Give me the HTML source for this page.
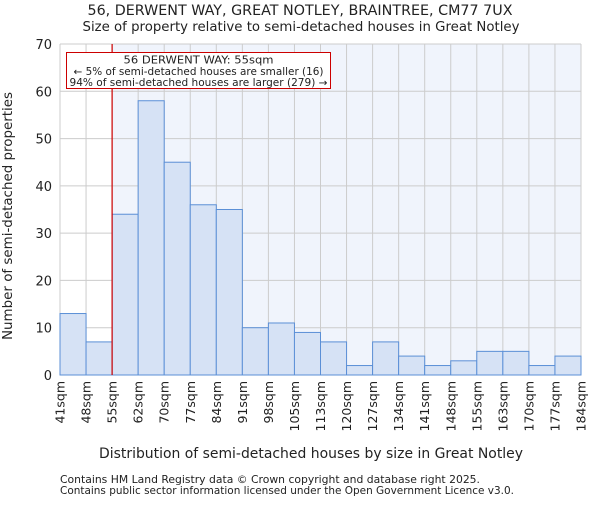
<!DOCTYPE html>
<html><head><meta charset="utf-8"><style>
body{margin:0;background:#fff}
svg text{font-family:"DejaVu Sans","Liberation Sans",sans-serif;fill:#222}
</style></head><body>
<svg id="chart" width="600" height="500" xmlns="http://www.w3.org/2000/svg">
<text x="300" y="15" text-anchor="middle" font-size="14" textLength="425" lengthAdjust="spacingAndGlyphs">56, DERWENT WAY, GREAT NOTLEY, BRAINTREE, CM77 7UX</text>
<text x="301" y="31" text-anchor="middle" font-size="13.3" textLength="437" lengthAdjust="spacingAndGlyphs">Size of property relative to semi-detached houses in Great Notley</text>
<g id="plot"></g>
<text x="311" y="458" text-anchor="middle" font-size="13.8" textLength="424" lengthAdjust="spacingAndGlyphs">Distribution of semi-detached houses by size in Great Notley</text>
<text transform="translate(12,216) rotate(-90)" text-anchor="middle" font-size="13.5" textLength="248" lengthAdjust="spacingAndGlyphs">Number of semi-detached properties</text>
<text x="60" y="483" font-size="10.8" textLength="420" lengthAdjust="spacingAndGlyphs">Contains HM Land Registry data © Crown copyright and database right 2025.</text>
<text x="60" y="494" font-size="10.8" textLength="454" lengthAdjust="spacingAndGlyphs">Contains public sector information licensed under the Open Government Licence v3.0.</text>
</svg>
<script>
const categories=["41sqm","48sqm","55sqm","62sqm","70sqm","77sqm","84sqm","91sqm","98sqm","105sqm","113sqm","120sqm","127sqm","134sqm","141sqm","148sqm","155sqm","163sqm","170sqm","177sqm","184sqm"];
const counts=[13,7,34,58,45,36,35,10,11,9,7,2,7,4,2,3,5,5,2,4];
const yTicks=[0,10,20,30,40,50,60,70];
const markerIndex=2;
const NS="http://www.w3.org/2000/svg";
const L=60,R=581,T=44,B=375,yMax=70;
const n=counts.length,bw=(R-L)/n;
const xs=i=>L+i*bw, ys=v=>B-v/yMax*(B-T);
const g=document.getElementById('plot');
function mk(t,a){const e=document.createElementNS(NS,t);for(const k in a)e.setAttribute(k,a[k]);g.appendChild(e);return e;}
let e;
e=mk('rect',{x:L,y:T,width:R-L,height:B-T,fill:'#fff'});


e=mk('rect',{x:xs(markerIndex),y:T,width:R-xs(markerIndex),height:B-T,fill:'#f0f4fc'});


yTicks.forEach(v=>{
 e=mk('line',{x1:L,x2:R,y1:ys(v),y2:ys(v),stroke:'#ccc','stroke-width':1});
 
 
 e=mk('text',{x:L-8,y:ys(v)+5,'text-anchor':'end','font-size':'13'});e.textContent=v;
 
 
});
categories.forEach((c,i)=>{
 e=mk('line',{x1:xs(i),x2:xs(i),y1:T,y2:B,stroke:'#ccc','stroke-width':1});
 
 
});
counts.forEach((v,i)=>{
 e=mk('rect',{x:xs(i),y:ys(v),width:bw,height:B-ys(v),fill:'#d6e2f5',stroke:'#5b8fd6','stroke-width':1});
 
 
});
categories.forEach((c,i)=>{
 const x=xs(i);
 e=mk('text',{transform:`translate(${x+4.5},${B+6}) rotate(-90)`,'text-anchor':'end','font-size':'12.5'});e.textContent=c;
 
 
});
e=mk('line',{x1:xs(markerIndex),x2:xs(markerIndex),y1:T,y2:B,stroke:'#c00','stroke-width':1.2});


e=mk('rect',{x:66.5,y:52.5,width:264,height:36,fill:'#fff',stroke:'#c00','stroke-width':1});


[["56 DERWENT WAY: 55sqm",150],["← 5% of semi-detached houses are smaller (16)",250],["94% of semi-detached houses are larger (279) →",258]].forEach((t,k)=>{
 e=mk('text',{x:198.5,y:63.5+k*11.3,'text-anchor':'middle','font-size':'10.3',textLength:t[1],lengthAdjust:'spacingAndGlyphs'});e.textContent=t[0];
 
 
});
</script>
</body></html>
